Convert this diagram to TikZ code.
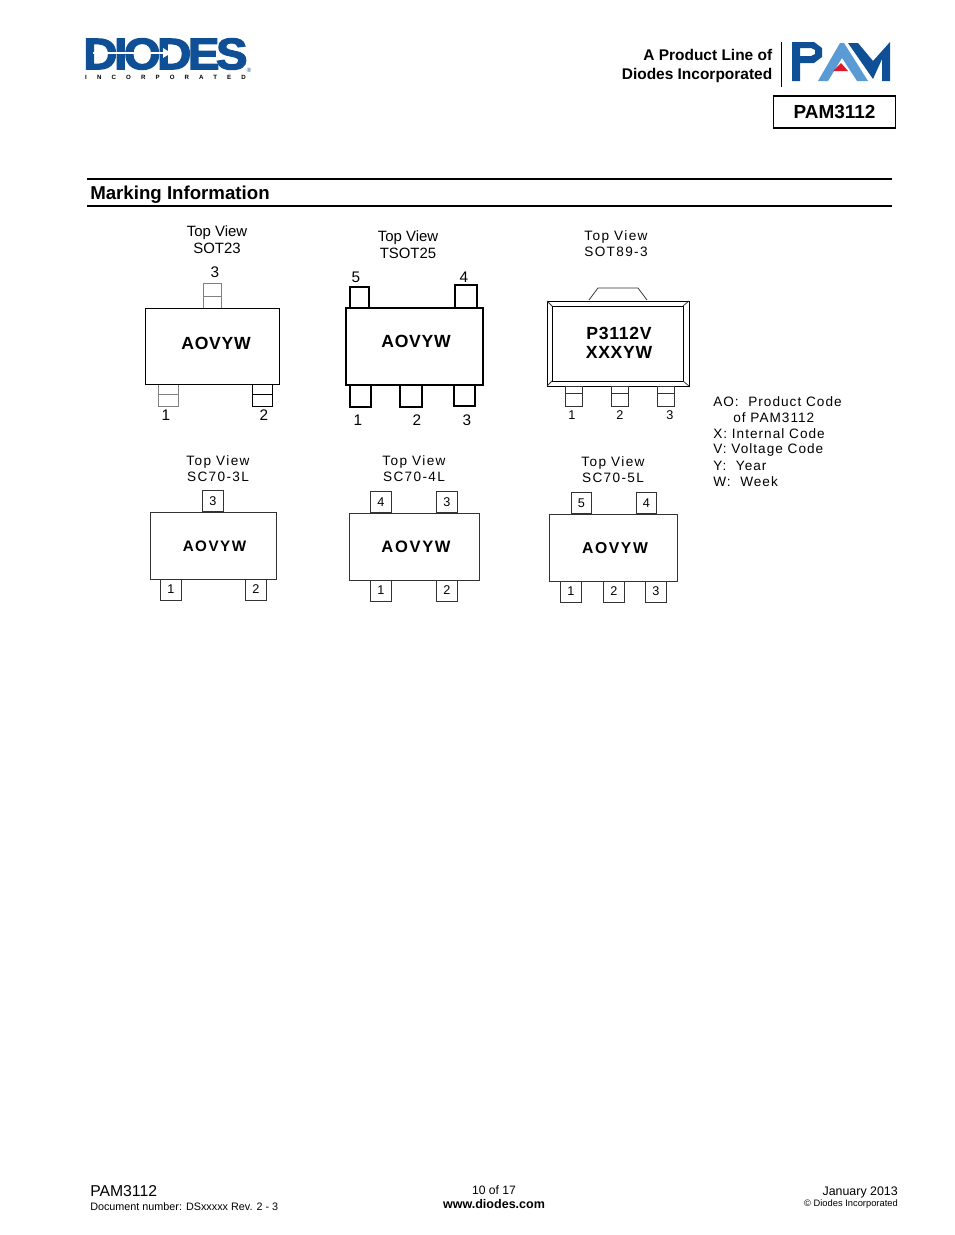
\documentclass[tikz,border=0pt]{standalone}
\usepackage{xcolor}
\usepackage{fontspec}
\setmainfont{Liberation Sans}
\newfontfamily\widefont[LetterSpace=10]{Liberation Sans}
\newfontfamily\legendfont[LetterSpace=7.5]{Liberation Sans}
\newfontfamily\markfont[LetterSpace=4]{Liberation Sans}
\newfontfamily\logofont[LetterSpace=165]{Liberation Sans}
\newfontfamily\diodesfont[LetterSpace=-7, BoldFeatures={FakeBold=3}]{Liberation Sans}
\definecolor{logoblue}{HTML}{0F4F96}
\definecolor{pamblue}{HTML}{5B9BD5}
\definecolor{pamred}{HTML}{E0162B}
\tikzset{
  pkgline/.style={draw=black, line width=0.75pt},
  pkgfine/.style={draw=black!80, line width=0.55pt},
  pkggrey/.style={draw=black!50, line width=0.75pt},
  viewtext/.style={inner sep=0pt, yshift=-0.8pt, font=\fontsize{11.2}{12}\selectfont},
  spacedtext/.style={inner sep=0pt, yshift=-0.8pt, font=\widefont\fontsize{10.2}{12}\selectfont},
  marktext/.style={inner sep=0pt, yshift=-0.8pt, font=\markfont\fontsize{13.2}{14}\selectfont\bfseries},
  pintext/.style={inner sep=0pt, font=\fontsize{11.5}{12}\selectfont},
  smallpin/.style={inner sep=0pt, font=\fontsize{9.5}{12}\selectfont},
  legendtext/.style={inner sep=0pt, anchor=west, yshift=-0.8pt, font=\legendfont\fontsize{10.2}{12}\selectfont},
  leadbox/.style={draw=black!80, line width=0.55pt, minimum width=15.5pt, minimum height=15.75pt,
    inner sep=0pt, font=\fontsize{9.5}{12}\selectfont}
}
\begin{document}
\begin{tikzpicture}[x=0.75pt, y=-0.75pt]

    \useasboundingbox (0, 0) rectangle (954, 1235);

    % diodes logo
    \node (diodes) [inner sep=0pt, text=logoblue] at (165.5, 54)
    {\resizebox{123pt}{23pt}{\diodesfont\bfseries DIODES}};
    \draw [white, line width=0.9pt] (93, 53) -- (164, 53);
    \fill [white] (163, 48) -- (171, 53) -- (163, 58) -- cycle;
    \node (incorp) [inner sep=0pt, font=\logofont\fontsize{4.6}{5}\selectfont\bfseries]
    at (165.5, 77) {INCORPORATED};
    \node (regmark) [inner sep=0pt, text=logoblue, font=\fontsize{4.5}{5}\selectfont]
    at (249, 70) {\textregistered};

    % header
    \node (line1) [inner sep=0pt, anchor=east, font=\fontsize{11.6}{12}\selectfont\bfseries]
    at (772.5, 55) {A Product Line of};
    \node (line2) [inner sep=0pt, anchor=east, font=\fontsize{11.6}{12}\selectfont\bfseries]
    at (772.5, 75) {Diodes Incorporated};
    \draw [line width=0.6pt] (781, 42) -- (781, 87);

    % pam logo
    \fill [logoblue, even odd rule]
    (792, 42) -- (814, 42) -- (822, 48) -- (822, 57) -- (814, 63) -- (800, 63)
    -- (800, 81) -- (792, 81) -- cycle
    (800, 48) -- (800, 56) -- (811, 56) -- (815, 54) -- (815, 50) -- (811, 48) -- cycle;
    \fill [pamblue]
    (818, 81) -- (840, 43) -- (844, 43) -- (868, 81) -- (857, 81) -- (842, 58)
    -- (828, 81) -- cycle;
    \fill [logoblue]
    (848, 43) -- (858, 43) -- (873, 61) -- (890, 42) -- (890, 81) -- (882, 81)
    -- (882, 59) -- (873, 79) -- cycle;
    \fill [pamred] (841, 63) -- (848, 71) -- (833, 71) -- cycle;

    \node (partbox) [draw, line width=0.9pt, minimum width=92pt, minimum height=24pt,
      inner sep=0pt, font=\fontsize{14.2}{15}\selectfont\bfseries]
    at (834.5, 112) {PAM3112};

    % section heading
    \draw [line width=1.1pt] (87, 179) -- (892, 179);
    \draw [line width=1.1pt] (87, 206) -- (892, 206);
    \node (heading) [inner sep=0pt, anchor=west, font=\fontsize{14}{15}\selectfont\bfseries]
    at (90, 195) {Marking Information};

    % SOT23
    \node (sotview) [viewtext] at (217, 232) {Top View};
    \node (sotname) [viewtext] at (217, 247) {SOT23};
    \draw [pkggrey] (203, 283) rectangle (221, 308) (203, 296) -- (221, 296);
    \draw [pkggrey] (158, 384) rectangle (178, 406) (158, 394) -- (178, 394);
    \draw [pkgline] (252, 384) rectangle (272, 406) (252, 394) -- (272, 394);
    \draw [pkgline] (145.5, 308) rectangle (279, 384);
    \node (sotmark) [marktext] at (216, 342) {AOVYW};
    \node (sotpin3) [pintext] at (215, 272) {3};
    \node (sotpin1) [pintext] at (166, 415) {1};
    \node (sotpin2) [pintext] at (264, 415) {2};

    % TSOT25
    \node (tsotview) [viewtext] at (408, 237) {Top View};
    \node (tsotname) [viewtext] at (408, 252) {TSOT25};
    \foreach \xa/\ya/\xb/\yb in {
      346/308/483/385, 350/287/369/308, 455/285/477/308,
      350/385/371/407, 400/385/422/407, 454/385/475/406
    } {
      \draw [pkgline, line width=1pt] (\xa, \ya) rectangle (\xb, \yb);
    }
    \node (tsotmark) [marktext] at (416, 340) {AOVYW};
    \node (tsotpin5) [pintext] at (356, 277) {5};
    \node (tsotpin4) [pintext] at (464, 277) {4};
    \node (tsotpin1) [pintext] at (358, 420) {1};
    \node (tsotpin2) [pintext] at (417, 420) {2};
    \node (tsotpin3) [pintext] at (467, 420) {3};

    % SOT89-3
    \node (sbview) [spacedtext] at (616, 236) {Top View};
    \node (sbname) [spacedtext] at (616, 251) {SOT89-3};
    \draw [pkgfine] (589, 300) -- (598, 288) -- (638, 288) -- (647, 300);
    \draw [pkgline] (547, 301) rectangle (689, 386);
    \draw [pkgline] (552, 306) rectangle (683, 381);
    \draw [pkgfine] (547, 301) -- (552, 306) (689, 301) -- (683, 306)
    (547, 386) -- (552, 381) (689, 386) -- (683, 381);
    \foreach \xa/\xb in {565/582, 611/628, 657/674} {
      \draw [pkgfine] (\xa, 386) rectangle (\xb, 406) (\xa, 393) -- (\xb, 393);
    }
    \node (sbmarka) [marktext] at (619, 332) {P3112V};
    \node (sbmarkb) [marktext] at (619, 351) {XXXYW};
    \node (sbpin1) [smallpin] at (572, 415) {1};
    \node (sbpin2) [smallpin] at (620, 415) {2};
    \node (sbpin3) [smallpin] at (670, 415) {3};

    % SC70-3L
    \node (sc3view) [spacedtext] at (218, 461) {Top View};
    \node (sc3name) [spacedtext] at (218, 476) {SC70-3L};
    \draw [pkgfine] (150.5, 512) rectangle (276.5, 579);
    \node (sc3mark) [marktext, font=\widefont\fontsize{11.4}{14}\selectfont\bfseries] at (214.5, 545) {AOVYW};
    \node (sc3lead3) [leadbox] at (213, 501) {3};
    \node (sc3lead1) [leadbox] at (171, 589.5) {1};
    \node (sc3lead2) [leadbox] at (256, 589.5) {2};

    % SC70-4L
    \node (sc4view) [spacedtext] at (414, 461) {Top View};
    \node (sc4name) [spacedtext] at (414, 476) {SC70-4L};
    \draw [pkgfine] (349, 513) rectangle (479.5, 580);
    \node (sc4mark) [marktext, font=\widefont\fontsize{12.4}{14}\selectfont\bfseries] at (416, 546) {AOVYW};
    \node (sc4lead4) [leadbox] at (381, 502) {\raisebox{-1.5pt}{4}};
    \node (sc4lead3) [leadbox] at (447, 502) {\raisebox{-1.5pt}{3}};
    \node (sc4lead1) [leadbox] at (381, 590.5) {\raisebox{-1.5pt}{1}};
    \node (sc4lead2) [leadbox] at (447, 590.5) {\raisebox{-1.5pt}{2}};

    % SC70-5L
    \node (sc5view) [spacedtext] at (613, 462) {Top View};
    \node (sc5name) [spacedtext] at (613, 477) {SC70-5L};
    \draw [pkgfine] (549, 514) rectangle (677.5, 581);
    \node (sc5mark) [marktext, font=\widefont\fontsize{11.8}{14}\selectfont\bfseries] at (615, 547) {AOVYW};
    \node (sc5lead5) [leadbox] at (581.5, 503) {5};
    \node (sc5lead4) [leadbox] at (646.5, 503) {4};
    \node (sc5lead1) [leadbox] at (571, 591.5) {1};
    \node (sc5lead2) [leadbox] at (614, 591.5) {2};
    \node (sc5lead3) [leadbox] at (656, 591.5) {3};

    % legend
    \node (legendao) [legendtext] at (713, 401) {AO:\ \ Product Code};
    \node (legendof) [legendtext] at (733, 417) {of PAM3112};
    \node (legendx) [legendtext] at (713, 433) {X: Internal Code};
    \node (legendv) [legendtext] at (713, 449) {V: Voltage Code};
    \node (legendy) [legendtext] at (713, 465) {Y:\ \ Year};
    \node (legendw) [legendtext] at (713, 481) {W:\ \ Week};

    % footer
    \node (footpart) [inner sep=0pt, anchor=west, font=\fontsize{11.8}{12}\selectfont]
    at (90, 1191) {PAM3112};
    \node (footdoc) [inner sep=0pt, anchor=west, font=\fontsize{8.1}{9}\selectfont]
    at (90, 1207) {Document number: DSxxxxx Rev. 2 - 3};
    \node (footpage) [inner sep=0pt, font=\fontsize{9.1}{10}\selectfont]
    at (494, 1190.5) {10 of 17};
    \node (footweb) [inner sep=0pt, font=\fontsize{9.4}{10}\selectfont\bfseries]
    at (494, 1204.5) {www.diodes.com};
    \node (footdate) [inner sep=0pt, anchor=east, font=\fontsize{9.3}{10}\selectfont]
    at (898, 1192) {January 2013};
    \node (footcopy) [inner sep=0pt, anchor=east, font=\fontsize{7}{8}\selectfont]
    at (898, 1204.5) {\textcopyright{} Diodes Incorporated};

  \end{tikzpicture}
\end{document}
